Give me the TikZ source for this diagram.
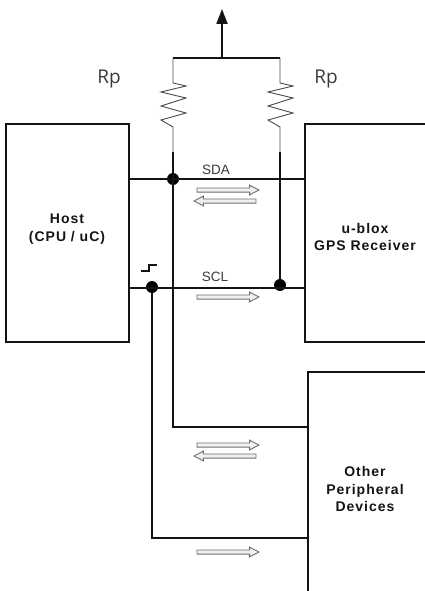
\documentclass[tikz,border=0pt]{standalone}
\usepackage{fontspec}
\setmainfont{Liberation Sans}
\newfontfamily\rpfont{Open Sans}
\usepackage{xcolor}
\usetikzlibrary{arrows.meta,shapes.arrows}
\definecolor{BusInk}{HTML}{141414}
\definecolor{ResGray}{HTML}{4A4A4A}
\definecolor{FlowGray}{HTML}{6E6E6E}
\definecolor{FlowFill}{HTML}{F0F0F0}
\definecolor{LabelGray}{HTML}{3A3A3A}
\tikzset{
  blockbox/.style={draw=BusInk,line width=2pt,rectangle,inner sep=0pt},
  blocktext/.style={align=center,text=BusInk,inner sep=0pt,
    font=\bfseries\fontsize{14}{17.4}\selectfont\addfontfeature{LetterSpace=7}},
  bus/.style={draw=BusInk,line width=2pt},
  pullup/.style={draw=ResGray,line width=0.9pt,line join=miter},
  junction/.style={circle,fill=black,inner sep=0pt,minimum size=12pt},
  flowright/.style={single arrow,draw=FlowGray,fill=FlowFill,line width=0.9pt,inner sep=1.6pt,
    minimum height=62pt,minimum width=9.5pt,single arrow head extend=2.8pt,single arrow tip angle=55},
  flowleft/.style={flowright,shape border rotate=180},
  signame/.style={text=LabelGray,font=\fontsize{13.5}{15}\selectfont,inner sep=0pt},
  rplabel/.style={text=LabelGray,font=\rpfont\fontsize{19}{22}\selectfont,inner sep=0pt,anchor=base}
}
\begin{document}
\begin{tikzpicture}[x=1pt,y=-1pt,>=Latex]
  \useasboundingbox (0,0) rectangle (425,591);
  % blocks, the two on the right run off the page
  \node[blockbox,minimum width=123pt,minimum height=218pt] (Host) at (67.5,233) {};
  \node[blockbox,minimum width=124pt,minimum height=218pt] (Ublox) at (367,233) {};
  \node[blockbox,minimum width=124pt,minimum height=234pt] (Other) at (370,489) {};
  \node[blocktext] (hostname) at (67,229) {Host\\(CPU / uC)};
  \node[blocktext] (ubloxname) at (365,237) {u-blox\\GPS Receiver};
  \node[blocktext] (othername) at (365,489) {Other\\Peripheral\\Devices};
  % bus points
  \node[junction] (sdaj) at (173,179) {};
  \node[junction] (sclj) at (152,287) {};
  \node[junction] (rclk) at (280,285) {};
  \coordinate (rail1) at (173,58); \coordinate (rail2) at (280,58);
  \coordinate (vcc) at (222,58); \coordinate (vcctip) at (222,9);
  \coordinate (sdalow) at (173,427); \coordinate (scllow) at (152,538);
  \coordinate (sclbus) at (152,288);
  \coordinate (stub1) at (173,152); \coordinate (stub2) at (280,152);
  % supply rail
  \draw[bus] (rail1) -- (rail2);
  \draw[bus,-{Triangle[length=15pt,width=11pt]}] (vcc) -- (vcctip);
  % pull-ups
  \draw[pullup] (rail1) -- (173,83) -- (186,86) -- (161,92) -- (186,98) -- (161,106) -- (186,113) -- (161,120) -- (173,127) -- (stub1);
  \draw[pullup] (rail2) -- (280,83) -- (293,86) -- (268,92) -- (293,98) -- (268,106) -- (293,113) -- (268,120) -- (280,127) -- (stub2);
  % SDA and SCL
  \draw[bus] (sdaj -| Host.east) -- (sdaj -| Ublox.west);
  \draw[bus] (sclbus -| Host.east) -- (sclbus -| Ublox.west);
  \draw[bus] (stub1) -- (sdalow) -- (sdalow -| Other.west);
  \draw[bus] (stub2) -- (rclk);
  \draw[bus] (sclj) -- (scllow) -- (scllow -| Other.west);
  % clock edge
  \draw[draw=BusInk,line width=1.5pt] (141,271) -- (149,271) -- (149,265) -- (157,265);
  % direction arrows
  \node[flowright] (sdatx) at (226,190) {};
  \node[flowleft] (sdarx) at (227,201) {};
  \node[flowright] (scltx) at (226,297) {};
  \node[flowright] (othertx) at (226,445) {};
  \node[flowleft] (otherrx) at (227,456) {};
  \node[flowright] (otherclk) at (226,552) {};
  % labels
  \node[signame] (sdaname) at (216,170) {SDA};
  \node[signame] (sclname) at (215,277) {SCL};
  \node[rplabel] (rpleft) at (109,84) {Rp};
  \node[rplabel] (rpright) at (326,84) {Rp};
\end{tikzpicture}
\end{document}
